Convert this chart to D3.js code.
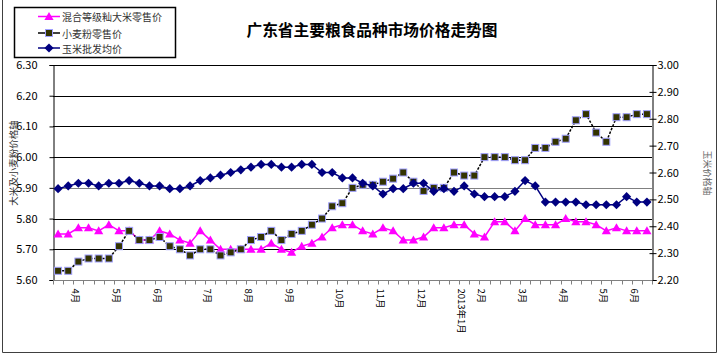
<!DOCTYPE html>
<html><head><meta charset="utf-8">
<script src="https://cdn.jsdelivr.net/npm/d3@7"></script>
<style>body{margin:0;background:#fff}svg{display:block}text{font-family:"Noto Sans CJK SC","Liberation Sans",sans-serif}</style>
</head><body><svg id="c" width="720" height="361"></svg>
<script>
// categories: weekly observations, month label on selected weeks
const categories = ["","","4月","","","","5月","","","","6月","","","","","7月","","","","8月","","","","9月","","","","","10月","","","","11月","","","","12月","","","","2013年1月","","2月","","","","3月","","","","4月","","","","5月","","","6月",""];
const riceRetail  = [5.75,5.75,5.77,5.77,5.76,5.78,5.76,5.76,5.73,5.73,5.76,5.75,5.73,5.72,5.76,5.73,5.70,5.70,5.70,5.70,5.70,5.72,5.70,5.69,5.71,5.72,5.74,5.77,5.78,5.78,5.76,5.75,5.77,5.76,5.73,5.73,5.74,5.77,5.77,5.78,5.78,5.75,5.74,5.79,5.79,5.76,5.80,5.78,5.78,5.78,5.80,5.79,5.79,5.78,5.76,5.77,5.76,5.76,5.76];
const flourRetail = [5.63,5.63,5.66,5.67,5.67,5.67,5.71,5.76,5.73,5.73,5.74,5.71,5.70,5.68,5.70,5.70,5.68,5.69,5.70,5.73,5.74,5.76,5.73,5.75,5.76,5.78,5.80,5.84,5.85,5.90,5.91,5.91,5.92,5.93,5.95,5.92,5.89,5.90,5.90,5.95,5.94,5.94,6.00,6.00,6.00,5.99,5.99,6.03,6.03,6.05,6.06,6.12,6.14,6.08,6.05,6.13,6.13,6.14,6.14];
const cornWholesale = [2.54,2.55,2.56,2.56,2.55,2.56,2.56,2.57,2.56,2.55,2.55,2.54,2.54,2.55,2.57,2.58,2.59,2.60,2.61,2.62,2.63,2.63,2.62,2.62,2.63,2.63,2.60,2.60,2.58,2.58,2.56,2.55,2.52,2.54,2.54,2.56,2.56,2.53,2.54,2.53,2.55,2.52,2.51,2.51,2.51,2.53,2.57,2.55,2.49,2.49,2.49,2.49,2.48,2.48,2.48,2.48,2.51,2.49,2.49];
const leftTicks  = [5.60,5.70,5.80,5.90,6.00,6.10,6.20,6.30];
const rightTicks = [2.20,2.30,2.40,2.50,2.60,2.70,2.80,2.90,3.00];
const seriesNames = ["混合等级籼大米零售价","小麦粉零售价","玉米批发均价"];
const title = "广东省主要粮食品种市场价格走势图";
const leftTitle = "大米及小麦粉价格轴";
const rightTitle = "玉米价格轴";

const svg = d3.select("#c");
const L=53, R=652, T=65, B=280;
const x = d3.scaleBand().domain(d3.range(categories.length)).range([L,R]);
const cx = i => x(i) + x.bandwidth()/2;
const yL = d3.scaleLinear().domain([5.6,6.3]).range([B,T]);
const yR = d3.scaleLinear().domain([2.2,3.0]).range([B,T]);

// outer frame
svg.append("path").attr("d","M2.5,0 V352.5 H716.5 V0").attr("fill","none").attr("stroke","#404040");

// gridlines
svg.append("g").selectAll("line").data(leftTicks.slice(1)).join("line")
  .attr("x1",L).attr("x2",R).attr("y1",d=>Math.round(yL(d))+0.5).attr("y2",d=>Math.round(yL(d))+0.5)
  .attr("stroke",d=>Math.abs(d-5.9)<1e-6?"#808080":"#000").attr("stroke-width",1);

// left axis
const ga = svg.append("g").attr("transform",`translate(${L+0.5},0)`)
  .call(d3.axisLeft(yL).tickValues(leftTicks).tickSize(4).tickPadding(12).tickFormat(d3.format(".2f")));
ga.select(".domain").attr("stroke","#000");
ga.selectAll("line").attr("stroke","#000");
ga.selectAll("text").attr("font-family","Liberation Sans").attr("font-size",11).attr("fill","#000");

// right axis
const gr = svg.append("g").attr("transform",`translate(${R+0.5},0)`)
  .call(d3.axisRight(yR).tickValues(rightTicks).tickSize(4).tickPadding(1).tickFormat(d3.format(".2f")));
gr.select(".domain").attr("stroke","#000");
gr.selectAll(".tick line").attr("stroke","#000").attr("x1",-3);
gr.selectAll("text").attr("font-family","Liberation Sans").attr("font-size",11).attr("fill","#000");

// bottom axis
const gb = svg.append("g").attr("transform",`translate(0,${B+0.5})`);
gb.append("line").attr("x1",L).attr("x2",R).attr("stroke","#808080");
gb.selectAll("line.t").data(d3.range(categories.length+1)).join("line").attr("class","t")
  .attr("x1",i=>Math.round(L+i*x.step())+0.5).attr("x2",i=>Math.round(L+i*x.step())+0.5)
  .attr("y1",0).attr("y2",4).attr("stroke","#808080");
gb.selectAll("text").data(categories.map((c,i)=>({c,i})).filter(d=>d.c)).join("text")
  .attr("transform",d=>`translate(${cx(d.i)-2},8) rotate(90)`)
  .attr("dominant-baseline","central").attr("font-size",9.5).attr("fill","#000").text(d=>d.c);

// series
const lineL = d3.line().x((d,i)=>cx(i)).y(d=>yL(d));
const lineR = d3.line().x((d,i)=>cx(i)).y(d=>yR(d));
const tri = "M0,-4.5L4.6,3.5L-4.6,3.5Z";
const dia = "M0,-4.6L4.6,0L0,4.6L-4.6,0Z";

svg.append("path").datum(riceRetail).attr("d",lineL).attr("fill","none").attr("stroke","#FF00FF").attr("stroke-width",1.5);
svg.append("g").selectAll("path").data(riceRetail).join("path")
  .attr("transform",(d,i)=>`translate(${cx(i)},${yL(d)})`).attr("d",tri).attr("fill","#FF00FF");

svg.append("path").datum(flourRetail).attr("d",lineL).attr("fill","none").attr("stroke","#000").attr("stroke-width",1.5).attr("stroke-dasharray","2.5,1.5");
svg.append("g").selectAll("rect").data(flourRetail).join("rect")
  .attr("x",(d,i)=>cx(i)-3.5).attr("y",d=>yL(d)-3.5).attr("width",7).attr("height",7)
  .attr("fill","#333300").attr("stroke","#A0A0FF").attr("stroke-width",1);

svg.append("path").datum(cornWholesale).attr("d",lineR).attr("fill","none").attr("stroke","#000080").attr("stroke-width",1.5);
svg.append("g").selectAll("path").data(cornWholesale).join("path")
  .attr("transform",(d,i)=>`translate(${cx(i)},${yR(d)})`).attr("d",dia).attr("fill","#000080");

// titles
svg.append("text").attr("x",372).attr("y",36).attr("text-anchor","middle").attr("font-size",15.7).attr("font-weight","bold").attr("fill","#000").text(title);
svg.append("text").attr("transform","translate(13,163) rotate(-90)").attr("text-anchor","middle").attr("dominant-baseline","central").attr("font-size",9.5).attr("fill","#333").text(leftTitle);
svg.append("text").attr("transform","translate(707,173) rotate(90)").attr("text-anchor","middle").attr("dominant-baseline","central").attr("font-size",9).attr("fill","#666").text(rightTitle);

// legend
const lg = svg.append("g");
lg.append("rect").attr("x",14.5).attr("y",7.5).attr("width",161).attr("height",50).attr("fill","#fff").attr("stroke","#000").attr("stroke-width",1.5);
const rows=[16.5,33,48];
const colors=["#FF00FF","#000","#000080"];
seriesNames.forEach((n,k)=>{
  const g=lg.append("g").attr("transform",`translate(0,${rows[k]})`);
  g.append("line").attr("x1",38).attr("x2",60).attr("stroke",colors[k]).attr("stroke-width",1.5);
  if(k===0) g.append("path").attr("transform","translate(49,0)").attr("d",tri).attr("fill","#FF00FF");
  if(k===1) g.append("rect").attr("x",45.5).attr("y",-3.5).attr("width",7).attr("height",7).attr("fill","#333300").attr("stroke","#A0A0FF");
  if(k===2) g.append("path").attr("transform","translate(49,0)").attr("d",dia).attr("fill","#000080");
  g.append("text").attr("x",62).attr("y",0).attr("dominant-baseline","central").attr("font-size",10).attr("fill","#333").text(n);
});
</script></body></html>
